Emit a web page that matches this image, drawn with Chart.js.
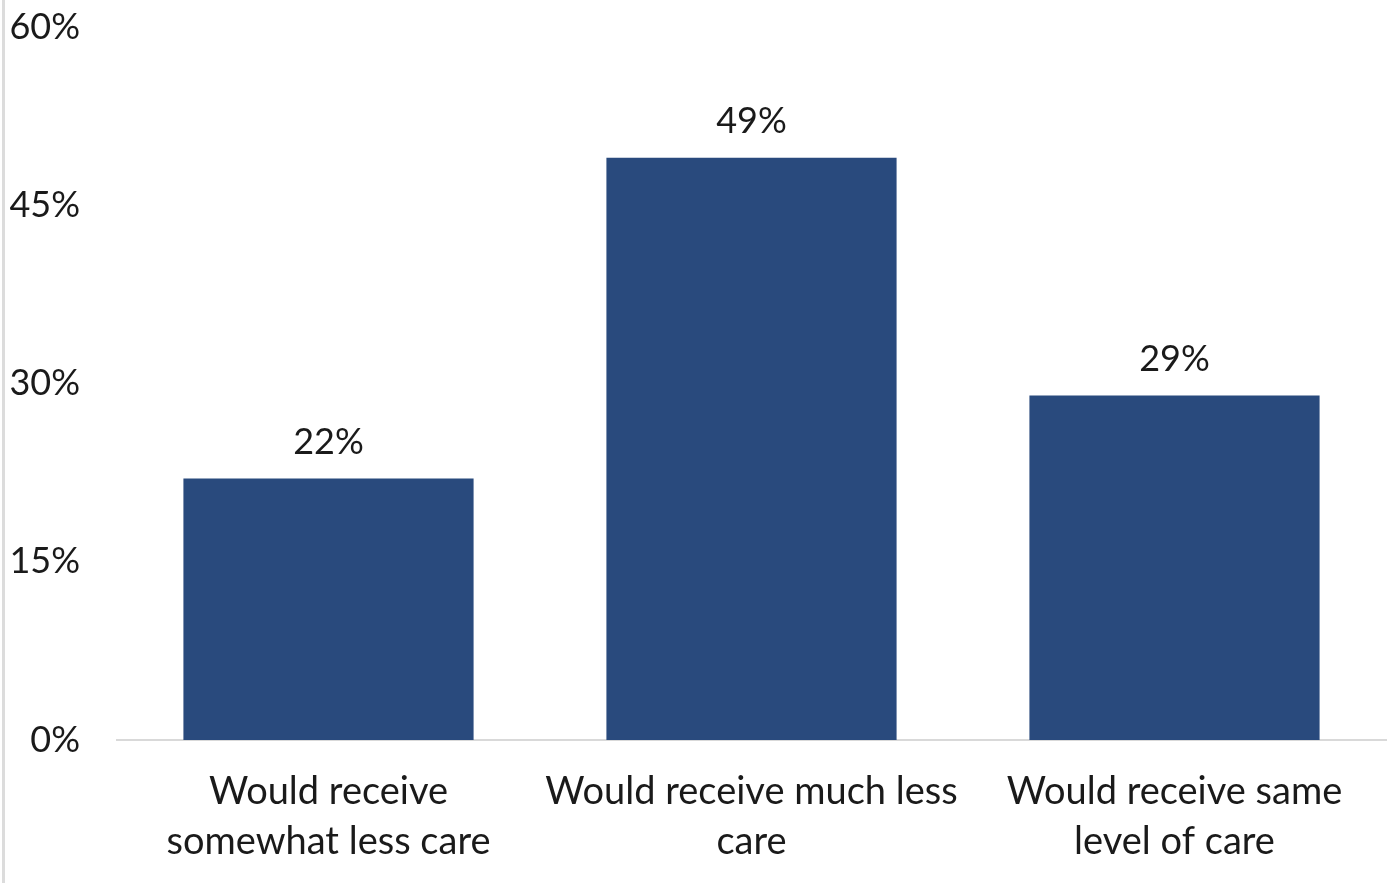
<!DOCTYPE html>
<html>
<head>
<meta charset="utf-8">
<script src="https://cdn.jsdelivr.net/npm/chart.js@4/dist/chart.umd.min.js"></script>
<style>
  html, body { margin: 0; padding: 0; background: #fff; }
  #wrap { position: relative; width: 1395px; height: 883px; }
  #edge { position: absolute; left: 2px; top: 0; width: 3px; height: 883px; background: #dcdcdc; }
  canvas { position: absolute; left: 0; top: 0; }
</style>
</head>
<body>
<div id="wrap">
  <canvas id="chart" width="1395" height="883"></canvas>
  <div id="edge"></div>
</div>
<script>
const categories = [
  ['Would receive', 'somewhat less care'],
  ['Would receive much less', 'care'],
  ['Would receive same', 'level of care']
]
const values = [22, 49, 29]
const yTicks = [0, 15, 30, 45, 60]

const FONT = 'Lato, "Open Sans", sans-serif'

// value labels above each bar
const barLabels = {
  id: 'barLabels',
  afterDatasetsDraw(chart) {
    const ctx = chart.ctx
    const meta = chart.getDatasetMeta(0)
    ctx.save()
    ctx.font = '36px ' + FONT
    ctx.fillStyle = '#1a1a1a'
    ctx.textAlign = 'center'
    ctx.textBaseline = 'middle'
    meta.data.forEach((bar, i) => {
      ctx.fillText(values[i] + '%', bar.x, bar.y - 36)
    })
    ctx.restore()
  }
}

new Chart(document.getElementById('chart').getContext('2d'), {
  type: 'bar',
  data: {
    labels: categories,
    datasets: [{
      data: values,
      backgroundColor: '#294a7d',
      borderWidth: 0,
      barPercentage: 0.686,
      categoryPercentage: 1
    }]
  },
  options: {
    responsive: false,
    animation: false,
    layout: { padding: { left: 10, right: 9, top: 27, bottom: 0 } },
    plugins: { legend: { display: false }, tooltip: { enabled: false } },
    scales: {
      x: {
        grid: { display: false, drawTicks: false },
        border: { display: true, color: '#d9d9d9', width: 2 },
        ticks: {
          color: '#1a1a1a',
          font: { family: FONT, size: 38, lineHeight: 1.32 },
          padding: 27,
          maxRotation: 0,
          autoSkip: false
        },
        afterFit(scale) {
          scale.height = 143
          scale.paddingLeft = scale.paddingRight = 0
        }
      },
      y: {
        min: 0,
        max: 60,
        afterBuildTicks(scale) { scale.ticks = yTicks.map(v => ({ value: v })) },
        grid: { display: false, drawTicks: false },
        border: { display: false },
        ticks: {
          color: '#1a1a1a',
          font: { family: FONT, size: 36 },
          padding: 37,
          callback: v => v + '%'
        },
        afterFit(scale) {
          scale.width = 107
          scale.paddingTop = scale.paddingBottom = 0
        }
      }
    }
  },
  plugins: [barLabels]
})
</script>
</body>
</html>
